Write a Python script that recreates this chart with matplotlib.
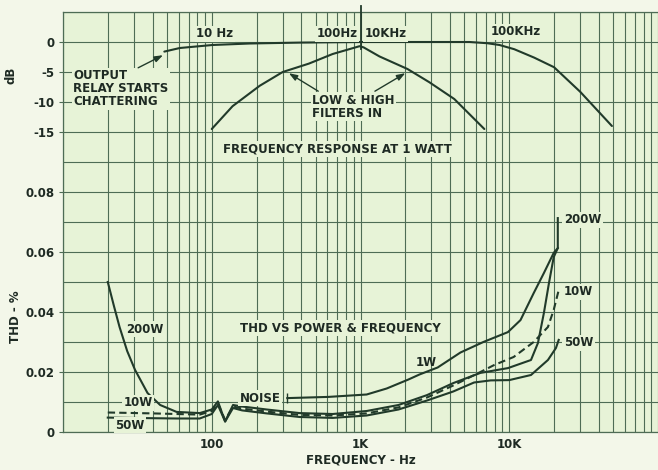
import matplotlib
matplotlib.use("Agg")
import matplotlib.pyplot as plt
from matplotlib.ticker import LogLocator, FixedLocator, NullFormatter
import numpy as np

# ---------------- data ----------------
# frequency response at 1 W (dB)
resp_flat_hz = [48, 61, 101, 180, 390, 1000, 5400, 7100, 8600, 10800, 14700, 20000, 30000, 49000]
resp_flat_db = [-1.6, -1.0, -0.5, -0.25, -0.1, 0.0, 0.0, -0.2, -0.5, -1.2, -2.6, -4.2, -8.3, -14.0]

resp_filt_hz = [100, 138, 210, 300, 450, 650, 985, 1050, 1340, 2070, 2900, 4270, 6800]
resp_filt_db = [-14.5, -10.7, -7.3, -5.0, -3.6, -2.0, -0.7, -0.9, -2.4, -4.5, -6.7, -9.5, -14.5]

# THD (%) vs frequency
thd_200w_hz = [20, 22, 24, 27, 30.5, 37, 45, 58, 83, 100, 110, 123, 139, 160, 234, 390, 650,
               1100, 1800, 2800, 4200, 6400, 9800, 14000, 15600, 17100, 18500, 19900, 21200, 21200]
thd_200w = [0.050, 0.042, 0.035, 0.027, 0.0207, 0.013, 0.009, 0.0067, 0.0063, 0.0075, 0.0102,
            0.0035, 0.0090, 0.0085, 0.0075, 0.0063, 0.0060, 0.0070, 0.0090, 0.0123, 0.0163,
            0.0197, 0.0213, 0.0240, 0.0297, 0.0397, 0.0497, 0.0583, 0.0613, 0.0713]

thd_10w_hz = [20, 40, 58, 83, 100, 110, 123, 139, 160, 234, 390, 650, 1100, 1800, 2800,
              4200, 6400, 7900, 10700, 14600, 18200, 19900, 21500]
thd_10w = [0.0065, 0.0062, 0.0060, 0.0058, 0.0070, 0.0095, 0.0040, 0.0085, 0.0078, 0.0068,
           0.0057, 0.0055, 0.0062, 0.0082, 0.0115, 0.0155, 0.0200, 0.0223, 0.0250, 0.0300,
           0.0350, 0.0407, 0.0473]

thd_50w_hz = [20, 40, 58, 83, 100, 110, 123, 139, 160, 234, 390, 650, 1100, 1800, 2800,
              4200, 5800, 7500, 10000, 14000, 18200, 20600, 21500]
thd_50w = [0.0048, 0.0046, 0.0045, 0.0045, 0.0060, 0.0090, 0.0035, 0.0080, 0.0072, 0.0062,
           0.0050, 0.0047, 0.0055, 0.0075, 0.0105, 0.0135, 0.0165, 0.0172, 0.0173, 0.0190,
           0.0240, 0.0280, 0.0307]

thd_1w_hz = [322, 609, 1100, 1500, 2100, 2500, 3300, 4700, 6700, 9800, 11900, 14600, 17100, 19900, 21200]
thd_1w = [0.0113, 0.0117, 0.0125, 0.0145, 0.0175, 0.0192, 0.0215, 0.0265, 0.0300, 0.0333,
          0.0373, 0.0463, 0.0530, 0.0597, 0.0613]

x_ticks = [100, 1000, 10000]
x_tick_labels = ["100", "1K", "10K"]
thd_ticks = [0, 0.02, 0.04, 0.06, 0.08]
thd_tick_labels = ["0", "0.02", "0.04", "0.06", "0.08"]
db_ticks = [0, -5, -10, -15]
db_tick_labels = ["0", "-5", "-10", "-15"]

# ---------------- style ----------------
BG_FIG = "#f3f7e9"
BG_AX = "#e7f3d7"
GRID = "#4e6c55"
INK = "#213a2a"
TXT = "#1e2a23"
FS = 8.5
plt.rcParams["font.weight"] = "bold"
plt.rcParams["axes.labelweight"] = "bold"

fig = plt.figure(figsize=(6.58, 4.70), dpi=100, facecolor=BG_FIG)
ax = fig.add_axes([63 / 658, 38 / 470, 595 / 658, 420 / 470])
ax.set_facecolor(BG_AX)
ax.set_xscale("log")
ax.set_xlim(10, 100000)
ax.set_ylim(0, 0.14)

ax.xaxis.set_major_locator(FixedLocator(x_ticks))
ax.set_xticklabels(x_tick_labels)
ax.xaxis.set_minor_locator(LogLocator(base=10, subs=np.arange(1, 10), numticks=20))
ax.xaxis.set_minor_formatter(NullFormatter())
ax.set_yticks(thd_ticks)
ax.set_yticklabels(thd_tick_labels)
ax.set_yticks(np.arange(0, 0.1401, 0.01), minor=True)

ax.grid(True, which="both", axis="both", color=GRID, linewidth=0.8)
ax.set_axisbelow(True)
for s in ax.spines.values():
    s.set_color(GRID)
    s.set_linewidth(0.9)
ax.spines["right"].set_visible(False)
ax.tick_params(axis="x", which="both", length=0, pad=4, labelsize=FS, labelcolor=TXT)
ax.tick_params(axis="y", which="major", length=3, color=GRID, pad=3, labelsize=FS, labelcolor=TXT)
ax.tick_params(axis="y", which="minor", length=0)

ax.set_xlabel("FREQUENCY - Hz", fontsize=FS, color=TXT, labelpad=2, fontweight="bold")
ax.set_ylabel("THD - %", fontsize=FS, color=TXT, fontweight="bold")
ax.yaxis.set_label_coords(-0.069, 0.274)

# dB axis overlay, same x, own y scale
ax2 = ax.twinx()
ax2.set_ylim(-65, 5)
ax2.yaxis.set_ticks_position("left")
ax2.yaxis.set_label_position("left")
ax2.set_yticks(db_ticks)
ax2.set_yticklabels(db_tick_labels)
ax2.tick_params(axis="y", length=3, color=GRID, pad=3, labelsize=FS, labelcolor=TXT)
for s in ax2.spines.values():
    s.set_visible(False)
ax2.set_ylabel("dB", fontsize=FS, color=TXT, fontweight="bold")
ax2.yaxis.set_label_coords(-0.077, 0.85)

lw = 1.5
# frequency response
ax2.plot(resp_flat_hz, resp_flat_db, color=INK, lw=lw, solid_capstyle="round")
ax2.plot(resp_filt_hz, resp_filt_db, color=INK, lw=lw, solid_capstyle="round")
ax2.plot([1000, 1000], [6.0, -1.2], color=INK, lw=1.3, clip_on=False)

# THD
ax.plot(thd_200w_hz, thd_200w, color=INK, lw=lw)
ax.plot(thd_50w_hz, thd_50w, color=INK, lw=lw)
ax.plot(thd_10w_hz, thd_10w, color=INK, lw=lw, ls=(0, (3.5, 2)))
ax.plot(thd_1w_hz, thd_1w, color=INK, lw=lw, marker="|", markevery=[0], markersize=7)

box = dict(facecolor=BG_AX, edgecolor="none", pad=1.0)

def t2(x, y, s, **kw):
    ax2.text(x, y, s, fontsize=FS, color=TXT, **kw)

def t1(x, y, s, **kw):
    ax.text(x, y, s, fontsize=FS, color=TXT, **kw)

t2(105, 1.4, "10 Hz", ha="center", va="center", bbox=box)
t2(955, 1.4, "100Hz", ha="right", va="center", bbox=box)
t2(1060, 1.4, "10KHz", ha="left", va="center", bbox=box)
t2(11000, 1.7, "100KHz", ha="center", va="center", bbox=box)
t2(11.7, -7.8, "OUTPUT\nRELAY STARTS\nCHATTERING", ha="left", va="center", linespacing=1.0, bbox=box)
t2(475, -10.8, "LOW & HIGH\nFILTERS IN", ha="left", va="center", linespacing=1.05, bbox=box)
t2(700, -17.8, "FREQUENCY RESPONSE AT 1 WATT", ha="center", va="center", bbox=box)

arrow = dict(arrowstyle="-|>,head_length=0.5,head_width=0.18", color=INK, lw=1.0, shrinkA=0, shrinkB=0)
ax2.annotate("", xy=(47, -2.2), xytext=(32, -4.3), arrowprops=arrow)
ax2.annotate("", xy=(330, -5.2), xytext=(520, -8.2), arrowprops=arrow)
ax2.annotate("", xy=(2000, -5.2), xytext=(1250, -8.2), arrowprops=arrow)

t1(35.5, 0.0343, "200W", ha="center", va="center", bbox=box)
t1(733, 0.0347, "THD VS POWER & FREQUENCY", ha="center", va="center", bbox=box)
t1(2780, 0.0232, "1W", ha="center", va="center")
t1(212, 0.0113, "NOISE", ha="center", va="center", bbox=box)
t1(32, 0.0097, "10W", ha="center", va="center", bbox=box)
t1(28.3, 0.0023, "50W", ha="center", va="center", bbox=box)
t1(23300, 0.0707, "200W", ha="left", va="center", bbox=box)
t1(23300, 0.0467, "10W", ha="left", va="center", bbox=box)
t1(23300, 0.0297, "50W", ha="left", va="center", bbox=box)

fig.savefig("out.png", dpi=100, facecolor=BG_FIG)
